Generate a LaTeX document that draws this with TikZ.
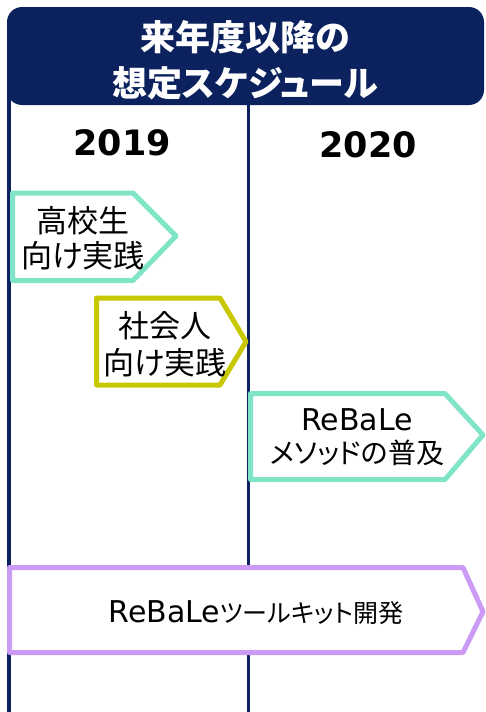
\documentclass[tikz,border=0pt]{standalone}
\usepackage{fontspec}
\setmainfont{Noto Sans CJK JP}[RawFeature=+palt]
\newfontfamily\lat{DejaVu Sans}
\definecolor{navy}{RGB}{12,34,94}
\definecolor{teal}{RGB}{128,228,198}
\definecolor{olive}{RGB}{200,200,0}
\definecolor{lilac}{RGB}{204,155,245}
\tikzset{
  vline/.style={draw=navy, line width=3.2pt},
  tagbox/.style={fill=white, line width=5pt, line join=round},
  txt/.style={align=center, inner sep=0pt, text=black},
}
\begin{document}
\begin{tikzpicture}[x=1pt,y=-1pt]
\useasboundingbox (0,0) rectangle (485,712);
% frame lines
\draw[vline] (9,40) -- (9,712);
\draw[vline] (248.5,40) -- (248.5,712);
% header
\fill[navy, rounded corners=15pt] (7,7) rectangle (484,105);
\node[txt, text=white, font=\fontsize{35}{46}\selectfont\bfseries] (title) at (245,60) {来年度以降の\\想定スケジュール};
% years
\node[txt, font=\lat\fontsize{35}{40}\selectfont\bfseries] (y1) at (122,143) {2019};
\node[txt, font=\lat\fontsize{35}{40}\selectfont\bfseries] (y2) at (368,145) {2020};
% box 1
\draw[tagbox, draw=teal] (12.5,193) -- (133,193) -- (176,236) -- (133,280.5) -- (12.5,280.5) -- cycle;
\node[txt, font=\fontsize{31}{35}\selectfont] (b1) at (83,238) {高校生\\向け実践};
% box 2
\draw[tagbox, draw=olive] (96.5,298) -- (220,298) -- (246,341.7) -- (220,385) -- (96.5,385) -- cycle;
\node[txt, font=\fontsize{31}{37}\selectfont] (b2) at (165,344) {社会人\\向け実践};
% box 3
\draw[tagbox, draw=teal] (250.5,393.5) -- (445,393.5) -- (483,435) -- (445,479.5) -- (250.5,479.5) -- cycle;
\node[txt, font=\fontsize{28}{33}\selectfont] (b3) at (357,437) {{\lat\fontsize{30}{33}\selectfont ReBaLe}\\メソッドの普及};
% box 4
\draw[tagbox, draw=lilac] (9.5,567.5) -- (463,567.5) -- (483,611.7) -- (463,652.5) -- (9.5,652.5) -- cycle;
\node[txt, font=\fontsize{25}{30}\selectfont] (b4) at (256,613) {{\lat\fontsize{30}{30}\selectfont ReBaLe}ツールキット開発};
\end{tikzpicture}
\end{document}
